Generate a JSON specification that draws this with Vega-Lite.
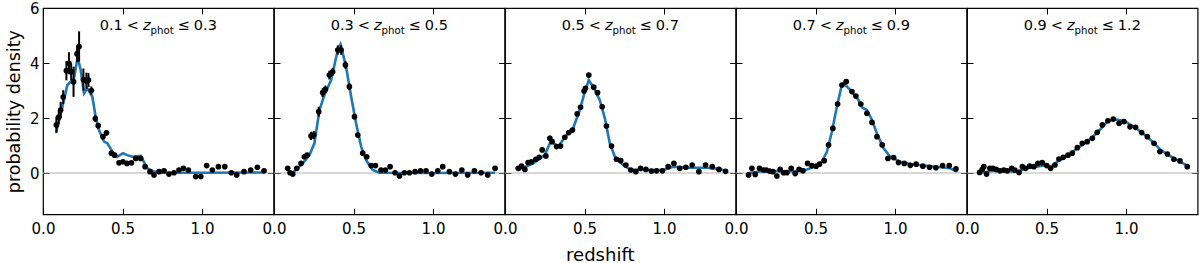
{
"$schema":"https://vega.github.io/schema/vega-lite/v6.json",
"background":"white",
"padding":{"left":4,"top":0,"right":2,"bottom":2},
"bounds":"flush",
"spacing":0,
"config":{"view":{"stroke":"black","strokeWidth":1.2},
 "axis":{"domain":false,"grid":false,"tickColor":"black","tickWidth":1,"tickSize":-6,"labelFont":"DejaVu Sans","labelFontSize":15,"labelColor":"black","titleFont":"DejaVu Sans","titleFontSize":18,"titleFontWeight":"normal","titleColor":"black","labelFlush":false,"labelOverlap":false,"labelBound":false},
 "text":{"font":"DejaVu Sans","fontSize":14.5,"color":"black","baseline":"alphabetic"}},
"datasets":{
"lab":[{"panel":1,"a":"0.1","b":"0.3"},{"panel":2,"a":"0.3","b":"0.5"},{"panel":3,"a":"0.5","b":"0.7"},{"panel":4,"a":"0.7","b":"0.9"},{"panel":5,"a":"0.9","b":"1.2"}],
"pts":[
{"panel":1,"z":0.084,"p":1.75,"lo":1.45,"hi":2.05},{"panel":1,"z":0.099,"p":2.03,"lo":1.78,"hi":2.28},{"panel":1,"z":0.111,"p":2.29,"lo":1.99,"hi":2.59},{"panel":1,"z":0.127,"p":2.76,"lo":2.51,"hi":3.01},{"panel":1,"z":0.147,"p":3.72,"lo":3.37,"hi":4.07},{"panel":1,"z":0.163,"p":3.99,"lo":3.59,"hi":4.39},{"panel":1,"z":0.177,"p":3.68,"lo":3.38,"hi":3.98},{"panel":1,"z":0.192,"p":3.32,"lo":2.77,"hi":3.87},{"panel":1,"z":0.214,"p":4.33,"lo":4.03,"hi":4.63},{"panel":1,"z":0.227,"p":4.6,"lo":4.05,"hi":5.15},{"panel":1,"z":0.254,"p":3.4,"lo":3.0,"hi":3.8},{"panel":1,"z":0.273,"p":3.35,"lo":3.05,"hi":3.65},{"panel":1,"z":0.286,"p":3.38,"lo":3.13,"hi":3.63},{"panel":1,"z":0.304,"p":3.0,"lo":2.85,"hi":3.15},{"panel":1,"z":0.329,"p":1.98,"lo":1.86,"hi":2.1},{"panel":1,"z":0.347,"p":1.72,"lo":1.62,"hi":1.82},{"panel":1,"z":0.377,"p":1.32,"lo":1.22,"hi":1.42},{"panel":1,"z":0.399,"p":1.46,"lo":1.36,"hi":1.56},{"panel":1,"z":0.43,"p":0.72,"lo":0.64,"hi":0.8},{"panel":1,"z":0.45,"p":0.65,"lo":0.57,"hi":0.73},{"panel":1,"z":0.478,"p":0.37,"lo":0.3,"hi":0.44},{"panel":1,"z":0.503,"p":0.41,"lo":0.34,"hi":0.48},{"panel":1,"z":0.528,"p":0.35,"lo":0.28,"hi":0.42},{"panel":1,"z":0.556,"p":0.37,"lo":0.3,"hi":0.44},{"panel":1,"z":0.583,"p":0.53,"lo":0.46,"hi":0.6},{"panel":1,"z":0.614,"p":0.53,"lo":0.46,"hi":0.6},{"panel":1,"z":0.642,"p":0.23,"lo":0.17,"hi":0.29},{"panel":1,"z":0.673,"p":0.05,"lo":-0.01,"hi":0.11},{"panel":1,"z":0.698,"p":-0.07,"lo":-0.13,"hi":-0.01},{"panel":1,"z":0.73,"p":0.05,"lo":-0.01,"hi":0.11},{"panel":1,"z":0.761,"p":0.08,"lo":0.02,"hi":0.14},{"panel":1,"z":0.792,"p":-0.04,"lo":-0.1,"hi":0.02},{"panel":1,"z":0.824,"p":0.01,"lo":-0.05,"hi":0.07},{"panel":1,"z":0.855,"p":0.11,"lo":0.05,"hi":0.17},{"panel":1,"z":0.883,"p":0.17,"lo":0.11,"hi":0.23},{"panel":1,"z":0.914,"p":0.11,"lo":0.05,"hi":0.17},{"panel":1,"z":0.96,"p":-0.13,"lo":-0.19,"hi":-0.07},{"panel":1,"z":0.992,"p":-0.13,"lo":-0.19,"hi":-0.07},{"panel":1,"z":1.029,"p":0.27,"lo":0.21,"hi":0.33},{"panel":1,"z":1.065,"p":0.11,"lo":0.05,"hi":0.17},{"panel":1,"z":1.103,"p":0.23,"lo":0.17,"hi":0.29},{"panel":1,"z":1.143,"p":0.23,"lo":0.17,"hi":0.29},{"panel":1,"z":1.184,"p":0.01,"lo":-0.05,"hi":0.07},{"panel":1,"z":1.218,"p":-0.07,"lo":-0.13,"hi":-0.01},{"panel":1,"z":1.264,"p":0.05,"lo":-0.01,"hi":0.11},{"panel":1,"z":1.306,"p":0.11,"lo":0.05,"hi":0.17},{"panel":1,"z":1.348,"p":0.21,"lo":0.15,"hi":0.27},{"panel":1,"z":1.39,"p":0.08,"lo":0.02,"hi":0.14},
{"panel":2,"z":0.086,"p":0.17,"lo":0.09,"hi":0.25},{"panel":2,"z":0.101,"p":0.01,"lo":-0.07,"hi":0.09},{"panel":2,"z":0.118,"p":-0.04,"lo":-0.12,"hi":0.04},{"panel":2,"z":0.143,"p":0.17,"lo":0.09,"hi":0.25},{"panel":2,"z":0.17,"p":0.35,"lo":0.27,"hi":0.43},{"panel":2,"z":0.191,"p":0.59,"lo":0.51,"hi":0.67},{"panel":2,"z":0.208,"p":0.65,"lo":0.57,"hi":0.73},{"panel":2,"z":0.233,"p":1.35,"lo":1.2,"hi":1.5},{"panel":2,"z":0.25,"p":1.38,"lo":1.23,"hi":1.53},{"panel":2,"z":0.281,"p":2.23,"lo":2.05,"hi":2.41},{"panel":2,"z":0.306,"p":2.92,"lo":2.76,"hi":3.08},{"panel":2,"z":0.323,"p":3.04,"lo":2.9,"hi":3.18},{"panel":2,"z":0.348,"p":3.56,"lo":3.4,"hi":3.72},{"panel":2,"z":0.369,"p":3.68,"lo":3.54,"hi":3.82},{"panel":2,"z":0.401,"p":4.47,"lo":4.3,"hi":4.64},{"panel":2,"z":0.422,"p":4.47,"lo":4.3,"hi":4.64},{"panel":2,"z":0.449,"p":3.93,"lo":3.79,"hi":4.07},{"panel":2,"z":0.474,"p":3.14,"lo":3.02,"hi":3.26},{"panel":2,"z":0.506,"p":2.05,"lo":1.95,"hi":2.15},{"panel":2,"z":0.527,"p":1.38,"lo":1.3,"hi":1.46},{"panel":2,"z":0.558,"p":0.72,"lo":0.65,"hi":0.79},{"panel":2,"z":0.583,"p":0.59,"lo":0.53,"hi":0.65},{"panel":2,"z":0.611,"p":0.27,"lo":0.21,"hi":0.33},{"panel":2,"z":0.638,"p":0.27,"lo":0.21,"hi":0.33},{"panel":2,"z":0.673,"p":0.11,"lo":0.05,"hi":0.17},{"panel":2,"z":0.701,"p":0.11,"lo":0.05,"hi":0.17},{"panel":2,"z":0.73,"p":0.23,"lo":0.17,"hi":0.29},{"panel":2,"z":0.761,"p":0.01,"lo":-0.05,"hi":0.07},{"panel":2,"z":0.789,"p":-0.11,"lo":-0.17,"hi":-0.05},{"panel":2,"z":0.82,"p":0.01,"lo":-0.05,"hi":0.07},{"panel":2,"z":0.852,"p":0.01,"lo":-0.05,"hi":0.07},{"panel":2,"z":0.887,"p":0.05,"lo":-0.01,"hi":0.11},{"panel":2,"z":0.921,"p":0.08,"lo":0.02,"hi":0.14},{"panel":2,"z":0.956,"p":0.08,"lo":0.02,"hi":0.14},{"panel":2,"z":0.992,"p":-0.04,"lo":-0.1,"hi":0.02},{"panel":2,"z":1.03,"p":0.08,"lo":0.02,"hi":0.14},{"panel":2,"z":1.061,"p":0.23,"lo":0.17,"hi":0.29},{"panel":2,"z":1.103,"p":0.05,"lo":-0.01,"hi":0.11},{"panel":2,"z":1.141,"p":-0.04,"lo":-0.1,"hi":0.02},{"panel":2,"z":1.181,"p":0.11,"lo":0.05,"hi":0.17},{"panel":2,"z":1.218,"p":-0.07,"lo":-0.13,"hi":-0.01},{"panel":2,"z":1.26,"p":0.08,"lo":0.02,"hi":0.14},{"panel":2,"z":1.302,"p":0.01,"lo":-0.05,"hi":0.07},{"panel":2,"z":1.344,"p":-0.07,"lo":-0.13,"hi":-0.01},{"panel":2,"z":1.39,"p":0.17,"lo":0.11,"hi":0.23},
{"panel":3,"z":0.083,"p":0.17,"lo":0.11,"hi":0.23},{"panel":3,"z":0.104,"p":0.25,"lo":0.19,"hi":0.31},{"panel":3,"z":0.125,"p":0.13,"lo":0.07,"hi":0.19},{"panel":3,"z":0.145,"p":0.38,"lo":0.32,"hi":0.44},{"panel":3,"z":0.166,"p":0.41,"lo":0.35,"hi":0.47},{"panel":3,"z":0.194,"p":0.5,"lo":0.44,"hi":0.56},{"panel":3,"z":0.215,"p":0.57,"lo":0.51,"hi":0.63},{"panel":3,"z":0.234,"p":0.84,"lo":0.76,"hi":0.92},{"panel":3,"z":0.257,"p":0.62,"lo":0.56,"hi":0.68},{"panel":3,"z":0.282,"p":1.26,"lo":1.16,"hi":1.36},{"panel":3,"z":0.296,"p":1.14,"lo":1.06,"hi":1.22},{"panel":3,"z":0.324,"p":0.96,"lo":0.9,"hi":1.02},{"panel":3,"z":0.349,"p":0.98,"lo":0.92,"hi":1.04},{"panel":3,"z":0.376,"p":1.3,"lo":1.24,"hi":1.36},{"panel":3,"z":0.401,"p":1.47,"lo":1.41,"hi":1.53},{"panel":3,"z":0.424,"p":1.56,"lo":1.5,"hi":1.62},{"panel":3,"z":0.454,"p":2.15,"lo":2.07,"hi":2.23},{"panel":3,"z":0.475,"p":2.39,"lo":2.31,"hi":2.47},{"panel":3,"z":0.497,"p":2.98,"lo":2.9,"hi":3.06},{"panel":3,"z":0.506,"p":3.08,"lo":3.0,"hi":3.16},{"panel":3,"z":0.527,"p":3.56,"lo":3.48,"hi":3.64},{"panel":3,"z":0.558,"p":3.12,"lo":3.04,"hi":3.2},{"panel":3,"z":0.582,"p":2.92,"lo":2.84,"hi":3.0},{"panel":3,"z":0.611,"p":2.41,"lo":2.33,"hi":2.49},{"panel":3,"z":0.638,"p":1.71,"lo":1.64,"hi":1.78},{"panel":3,"z":0.67,"p":0.98,"lo":0.92,"hi":1.04},{"panel":3,"z":0.701,"p":0.5,"lo":0.44,"hi":0.56},{"panel":3,"z":0.728,"p":0.45,"lo":0.39,"hi":0.51},{"panel":3,"z":0.76,"p":0.29,"lo":0.23,"hi":0.35},{"panel":3,"z":0.791,"p":0.11,"lo":0.05,"hi":0.17},{"panel":3,"z":0.823,"p":0.05,"lo":-0.01,"hi":0.11},{"panel":3,"z":0.852,"p":0.17,"lo":0.11,"hi":0.23},{"panel":3,"z":0.886,"p":0.13,"lo":0.07,"hi":0.19},{"panel":3,"z":0.921,"p":0.07,"lo":0.01,"hi":0.13},{"panel":3,"z":0.953,"p":0.08,"lo":0.02,"hi":0.14},{"panel":3,"z":0.99,"p":0.08,"lo":0.02,"hi":0.14},{"panel":3,"z":1.026,"p":0.23,"lo":0.17,"hi":0.29},{"panel":3,"z":1.062,"p":0.35,"lo":0.29,"hi":0.41},{"panel":3,"z":1.099,"p":0.17,"lo":0.11,"hi":0.23},{"panel":3,"z":1.137,"p":0.21,"lo":0.15,"hi":0.27},{"panel":3,"z":1.177,"p":0.29,"lo":0.23,"hi":0.35},{"panel":3,"z":1.219,"p":0.05,"lo":-0.01,"hi":0.11},{"panel":3,"z":1.261,"p":0.29,"lo":0.23,"hi":0.35},{"panel":3,"z":1.303,"p":0.23,"lo":0.17,"hi":0.29},{"panel":3,"z":1.345,"p":0.13,"lo":0.07,"hi":0.19},{"panel":3,"z":1.387,"p":0.06,"lo":0.0,"hi":0.12},
{"panel":4,"z":0.079,"p":-0.07,"lo":-0.13,"hi":-0.01},{"panel":4,"z":0.1,"p":0.17,"lo":0.11,"hi":0.23},{"panel":4,"z":0.121,"p":-0.05,"lo":-0.11,"hi":0.01},{"panel":4,"z":0.148,"p":0.17,"lo":0.11,"hi":0.23},{"panel":4,"z":0.173,"p":0.11,"lo":0.05,"hi":0.17},{"panel":4,"z":0.19,"p":0.11,"lo":0.05,"hi":0.17},{"panel":4,"z":0.211,"p":0.07,"lo":0.01,"hi":0.13},{"panel":4,"z":0.232,"p":0.05,"lo":-0.01,"hi":0.11},{"panel":4,"z":0.257,"p":-0.11,"lo":-0.17,"hi":-0.05},{"panel":4,"z":0.278,"p":0.13,"lo":0.07,"hi":0.19},{"panel":4,"z":0.299,"p":0.01,"lo":-0.05,"hi":0.07},{"panel":4,"z":0.32,"p":0.01,"lo":-0.05,"hi":0.07},{"panel":4,"z":0.347,"p":0.17,"lo":0.11,"hi":0.23},{"panel":4,"z":0.372,"p":-0.02,"lo":-0.08,"hi":0.04},{"panel":4,"z":0.397,"p":0.13,"lo":0.07,"hi":0.19},{"panel":4,"z":0.421,"p":0.08,"lo":0.02,"hi":0.14},{"panel":4,"z":0.45,"p":0.35,"lo":0.29,"hi":0.41},{"panel":4,"z":0.477,"p":0.27,"lo":0.21,"hi":0.33},{"panel":4,"z":0.504,"p":0.25,"lo":0.19,"hi":0.31},{"panel":4,"z":0.525,"p":0.32,"lo":0.26,"hi":0.38},{"panel":4,"z":0.555,"p":0.45,"lo":0.39,"hi":0.51},{"panel":4,"z":0.582,"p":1.02,"lo":0.96,"hi":1.08},{"panel":4,"z":0.609,"p":1.62,"lo":1.56,"hi":1.68},{"panel":4,"z":0.639,"p":2.51,"lo":2.44,"hi":2.58},{"panel":4,"z":0.666,"p":3.2,"lo":3.13,"hi":3.27},{"panel":4,"z":0.693,"p":3.32,"lo":3.25,"hi":3.39},{"panel":4,"z":0.729,"p":2.96,"lo":2.89,"hi":3.03},{"panel":4,"z":0.754,"p":2.8,"lo":2.73,"hi":2.87},{"panel":4,"z":0.785,"p":2.51,"lo":2.44,"hi":2.58},{"panel":4,"z":0.823,"p":2.17,"lo":2.1,"hi":2.24},{"panel":4,"z":0.855,"p":1.84,"lo":1.77,"hi":1.91},{"panel":4,"z":0.886,"p":1.32,"lo":1.25,"hi":1.39},{"panel":4,"z":0.919,"p":1.02,"lo":0.96,"hi":1.08},{"panel":4,"z":0.955,"p":0.53,"lo":0.47,"hi":0.59},{"panel":4,"z":0.991,"p":0.56,"lo":0.5,"hi":0.62},{"panel":4,"z":1.022,"p":0.38,"lo":0.32,"hi":0.44},{"panel":4,"z":1.058,"p":0.35,"lo":0.29,"hi":0.41},{"panel":4,"z":1.096,"p":0.28,"lo":0.22,"hi":0.34},{"panel":4,"z":1.133,"p":0.32,"lo":0.26,"hi":0.38},{"panel":4,"z":1.175,"p":0.25,"lo":0.19,"hi":0.31},{"panel":4,"z":1.217,"p":0.21,"lo":0.15,"hi":0.27},{"panel":4,"z":1.257,"p":0.19,"lo":0.13,"hi":0.25},{"panel":4,"z":1.299,"p":0.27,"lo":0.21,"hi":0.33},{"panel":4,"z":1.341,"p":0.27,"lo":0.21,"hi":0.33},{"panel":4,"z":1.383,"p":0.15,"lo":0.09,"hi":0.21},
{"panel":5,"z":0.079,"p":0.02,"lo":-0.04,"hi":0.08},{"panel":5,"z":0.096,"p":0.13,"lo":0.07,"hi":0.19},{"panel":5,"z":0.106,"p":0.23,"lo":0.17,"hi":0.29},{"panel":5,"z":0.123,"p":-0.04,"lo":-0.1,"hi":0.02},{"panel":5,"z":0.144,"p":0.17,"lo":0.11,"hi":0.23},{"panel":5,"z":0.163,"p":0.17,"lo":0.11,"hi":0.23},{"panel":5,"z":0.184,"p":0.13,"lo":0.07,"hi":0.19},{"panel":5,"z":0.207,"p":0.08,"lo":0.02,"hi":0.14},{"panel":5,"z":0.232,"p":0.11,"lo":0.05,"hi":0.17},{"panel":5,"z":0.253,"p":0.08,"lo":0.02,"hi":0.14},{"panel":5,"z":0.281,"p":0.17,"lo":0.11,"hi":0.23},{"panel":5,"z":0.301,"p":0.11,"lo":0.05,"hi":0.17},{"panel":5,"z":0.327,"p":0.02,"lo":-0.04,"hi":0.08},{"panel":5,"z":0.348,"p":0.23,"lo":0.17,"hi":0.29},{"panel":5,"z":0.369,"p":0.17,"lo":0.11,"hi":0.23},{"panel":5,"z":0.394,"p":0.25,"lo":0.19,"hi":0.31},{"panel":5,"z":0.421,"p":0.23,"lo":0.17,"hi":0.29},{"panel":5,"z":0.446,"p":0.35,"lo":0.29,"hi":0.41},{"panel":5,"z":0.473,"p":0.38,"lo":0.32,"hi":0.44},{"panel":5,"z":0.501,"p":0.27,"lo":0.21,"hi":0.33},{"panel":5,"z":0.526,"p":0.17,"lo":0.11,"hi":0.23},{"panel":5,"z":0.553,"p":0.29,"lo":0.23,"hi":0.35},{"panel":5,"z":0.578,"p":0.51,"lo":0.45,"hi":0.57},{"panel":5,"z":0.605,"p":0.57,"lo":0.51,"hi":0.63},{"panel":5,"z":0.635,"p":0.65,"lo":0.59,"hi":0.71},{"panel":5,"z":0.662,"p":0.72,"lo":0.66,"hi":0.78},{"panel":5,"z":0.694,"p":0.92,"lo":0.86,"hi":0.98},{"panel":5,"z":0.725,"p":1.08,"lo":1.02,"hi":1.14},{"panel":5,"z":0.756,"p":1.14,"lo":1.08,"hi":1.2},{"panel":5,"z":0.788,"p":1.26,"lo":1.2,"hi":1.32},{"panel":5,"z":0.819,"p":1.48,"lo":1.42,"hi":1.54},{"panel":5,"z":0.851,"p":1.75,"lo":1.69,"hi":1.81},{"panel":5,"z":0.886,"p":1.9,"lo":1.84,"hi":1.96},{"panel":5,"z":0.92,"p":1.96,"lo":1.9,"hi":2.02},{"panel":5,"z":0.956,"p":1.81,"lo":1.75,"hi":1.87},{"panel":5,"z":0.987,"p":1.87,"lo":1.81,"hi":1.93},{"panel":5,"z":1.025,"p":1.68,"lo":1.62,"hi":1.74},{"panel":5,"z":1.06,"p":1.66,"lo":1.6,"hi":1.72},{"panel":5,"z":1.098,"p":1.47,"lo":1.41,"hi":1.53},{"panel":5,"z":1.134,"p":1.32,"lo":1.26,"hi":1.38},{"panel":5,"z":1.176,"p":1.08,"lo":1.02,"hi":1.14},{"panel":5,"z":1.213,"p":0.78,"lo":0.72,"hi":0.84},{"panel":5,"z":1.26,"p":0.69,"lo":0.63,"hi":0.75},{"panel":5,"z":1.301,"p":0.5,"lo":0.44,"hi":0.56},{"panel":5,"z":1.339,"p":0.44,"lo":0.38,"hi":0.5},{"panel":5,"z":1.385,"p":0.23,"lo":0.17,"hi":0.29}
],
"fit":[
{"panel":1,"z":0.084,"p":1.5},{"panel":1,"z":0.122,"p":2.41},{"panel":1,"z":0.153,"p":3.2},{"panel":1,"z":0.174,"p":3.32},{"panel":1,"z":0.189,"p":3.26},{"panel":1,"z":0.218,"p":4.2},{"panel":1,"z":0.237,"p":3.75},{"panel":1,"z":0.258,"p":2.9},{"panel":1,"z":0.279,"p":3.08},{"panel":1,"z":0.31,"p":2.78},{"panel":1,"z":0.331,"p":2.05},{"panel":1,"z":0.352,"p":1.56},{"panel":1,"z":0.384,"p":1.14},{"panel":1,"z":0.405,"p":1.08},{"panel":1,"z":0.436,"p":0.78},{"panel":1,"z":0.467,"p":0.59},{"panel":1,"z":0.503,"p":0.72},{"panel":1,"z":0.53,"p":0.65},{"panel":1,"z":0.562,"p":0.59},{"panel":1,"z":0.614,"p":0.62},{"panel":1,"z":0.656,"p":0.17},{"panel":1,"z":0.698,"p":0.05},{"panel":1,"z":0.75,"p":0.01},{"panel":1,"z":1.0,"p":0.01},{"panel":1,"z":1.39,"p":0.02},
{"panel":2,"z":0.093,"p":0.05},{"panel":2,"z":0.118,"p":0.01},{"panel":2,"z":0.181,"p":0.35},{"panel":2,"z":0.223,"p":0.65},{"panel":2,"z":0.254,"p":1.08},{"panel":2,"z":0.286,"p":2.29},{"panel":2,"z":0.317,"p":2.84},{"panel":2,"z":0.359,"p":3.38},{"panel":2,"z":0.401,"p":4.47},{"panel":2,"z":0.418,"p":4.68},{"panel":2,"z":0.453,"p":3.87},{"panel":2,"z":0.485,"p":2.78},{"panel":2,"z":0.516,"p":1.81},{"panel":2,"z":0.548,"p":0.96},{"panel":2,"z":0.579,"p":0.47},{"panel":2,"z":0.621,"p":0.11},{"panel":2,"z":0.663,"p":0.01},{"panel":2,"z":1.0,"p":0.0},{"panel":2,"z":1.39,"p":0.01},
{"panel":3,"z":0.083,"p":0.11},{"panel":3,"z":0.177,"p":0.35},{"panel":3,"z":0.25,"p":0.65},{"panel":3,"z":0.282,"p":1.08},{"panel":3,"z":0.303,"p":1.1},{"panel":3,"z":0.334,"p":0.96},{"panel":3,"z":0.387,"p":1.38},{"panel":3,"z":0.428,"p":1.62},{"panel":3,"z":0.47,"p":2.29},{"panel":3,"z":0.502,"p":2.96},{"panel":3,"z":0.527,"p":3.38},{"panel":3,"z":0.565,"p":3.02},{"panel":3,"z":0.596,"p":2.65},{"panel":3,"z":0.628,"p":1.99},{"panel":3,"z":0.659,"p":1.08},{"panel":3,"z":0.691,"p":0.59},{"panel":3,"z":0.743,"p":0.29},{"panel":3,"z":0.785,"p":0.13},{"panel":3,"z":0.869,"p":0.11},{"panel":3,"z":0.995,"p":0.11},{"panel":3,"z":1.057,"p":0.23},{"panel":3,"z":1.141,"p":0.19},{"panel":3,"z":1.267,"p":0.19},{"panel":3,"z":1.351,"p":0.15},{"panel":3,"z":1.393,"p":0.05},
{"panel":4,"z":0.079,"p":0.0},{"panel":4,"z":0.173,"p":0.07},{"panel":4,"z":0.383,"p":0.07},{"panel":4,"z":0.446,"p":0.13},{"panel":4,"z":0.498,"p":0.23},{"panel":4,"z":0.54,"p":0.41},{"panel":4,"z":0.572,"p":0.78},{"panel":4,"z":0.603,"p":1.5},{"panel":4,"z":0.634,"p":2.41},{"panel":4,"z":0.662,"p":3.12},{"panel":4,"z":0.676,"p":3.26},{"panel":4,"z":0.718,"p":3.02},{"panel":4,"z":0.771,"p":2.65},{"panel":4,"z":0.792,"p":2.39},{"panel":4,"z":0.823,"p":2.29},{"panel":4,"z":0.855,"p":1.93},{"panel":4,"z":0.886,"p":1.44},{"panel":4,"z":0.928,"p":0.9},{"panel":4,"z":0.97,"p":0.59},{"panel":4,"z":1.033,"p":0.41},{"panel":4,"z":1.096,"p":0.33},{"panel":4,"z":1.179,"p":0.27},{"panel":4,"z":1.263,"p":0.23},{"panel":4,"z":1.347,"p":0.17},{"panel":4,"z":1.389,"p":0.05},
{"panel":5,"z":0.086,"p":0.01},{"panel":5,"z":0.169,"p":0.08},{"panel":5,"z":0.316,"p":0.05},{"panel":5,"z":0.379,"p":0.17},{"panel":5,"z":0.484,"p":0.27},{"panel":5,"z":0.526,"p":0.23},{"panel":5,"z":0.568,"p":0.41},{"panel":5,"z":0.631,"p":0.63},{"panel":5,"z":0.694,"p":0.9},{"panel":5,"z":0.756,"p":1.14},{"panel":5,"z":0.819,"p":1.47},{"panel":5,"z":0.882,"p":1.87},{"panel":5,"z":0.924,"p":1.95},{"panel":5,"z":0.987,"p":1.9},{"panel":5,"z":1.05,"p":1.68},{"panel":5,"z":1.134,"p":1.32},{"panel":5,"z":1.218,"p":0.84},{"panel":5,"z":1.301,"p":0.53},{"panel":5,"z":1.385,"p":0.27}
]},
"hconcat":[
{"width":230.6,"height":206.25,"resolve":{"axis":{"x":"independent","y":"independent"}},"layer":[
{"data":{"values":[{"y0":0}]},"mark":{"type":"rule","color":"#b0b0b0","strokeWidth":1},"encoding":{"y":{"field":"y0","type":"quantitative","scale":{"domain":[-1.5,6],"nice":false,"zero":false},"axis":null}}},
{"data":{"name":"fit"},"transform":[{"filter":"datum.panel==1"}],"mark":{"type":"line","color":"#1f77b4","strokeWidth":2.6},"encoding":{"x":{"field":"z","type":"quantitative","scale":{"domain":[0,1.45],"nice":false,"zero":false},"axis":{"orient":"bottom","values":[0,0.5,1],"format":".1f","labelPadding":13,"title":null}},"y":{"field":"p","type":"quantitative","scale":{"domain":[-1.5,6],"nice":false,"zero":false},"axis":{"orient":"left","values":[0,2,4,6],"labelPadding":10,"title":"probability density","titleFontSize":17.5,"titlePadding":6}}}},
{"data":{"name":"pts"},"transform":[{"filter":"datum.panel==1"}],"mark":{"type":"rule","color":"black","strokeWidth":2},"encoding":{"x":{"field":"z","type":"quantitative","scale":{"domain":[0,1.45],"nice":false,"zero":false},"axis":null},"y":{"field":"lo","type":"quantitative","scale":{"domain":[-1.5,6],"nice":false,"zero":false},"axis":null},"y2":{"field":"hi"}}},
{"data":{"name":"pts"},"transform":[{"filter":"datum.panel==1"}],"mark":{"type":"circle","color":"black","opacity":1,"size":32},"encoding":{"x":{"field":"z","type":"quantitative","scale":{"domain":[0,1.45],"nice":false,"zero":false},"axis":{"orient":"top","values":[0,0.5,1],"labels":false,"title":null}},"y":{"field":"p","type":"quantitative","scale":{"domain":[-1.5,6],"nice":false,"zero":false},"axis":{"orient":"right","values":[0,2,4,6],"labels":false,"title":null}}}},
{"data":{"name":"lab"},"transform":[{"filter":"datum.panel==1"}],"mark":{"type":"text","align":"right","dx":-35.5},"encoding":{"x":{"datum":0.725,"type":"quantitative","axis":null},"y":{"datum":5.2,"type":"quantitative","axis":null},"text":{"field":"a"}}},
{"data":{"name":"lab"},"transform":[{"filter":"datum.panel==1"}],"mark":{"type":"text","align":"center","dx":-25.4},"encoding":{"x":{"datum":0.725,"type":"quantitative","axis":null},"y":{"datum":5.2,"type":"quantitative","axis":null},"text":{"value":"<"}}},
{"data":{"name":"lab"},"transform":[{"filter":"datum.panel==1"}],"mark":{"type":"text","align":"left","fontStyle":"italic","dx":-15.3},"encoding":{"x":{"datum":0.725,"type":"quantitative","axis":null},"y":{"datum":5.2,"type":"quantitative","axis":null},"text":{"value":"z"}}},
{"data":{"name":"lab"},"transform":[{"filter":"datum.panel==1"}],"mark":{"type":"text","align":"left","fontSize":10.2,"dx":-7.7,"dy":3.5},"encoding":{"x":{"datum":0.725,"type":"quantitative","axis":null},"y":{"datum":5.2,"type":"quantitative","axis":null},"text":{"value":"phot"}}},
{"data":{"name":"lab"},"transform":[{"filter":"datum.panel==1"}],"mark":{"type":"text","align":"center","dx":25.4},"encoding":{"x":{"datum":0.725,"type":"quantitative","axis":null},"y":{"datum":5.2,"type":"quantitative","axis":null},"text":{"value":"≤"}}},
{"data":{"name":"lab"},"transform":[{"filter":"datum.panel==1"}],"mark":{"type":"text","align":"left","dx":35.5},"encoding":{"x":{"datum":0.725,"type":"quantitative","axis":null},"y":{"datum":5.2,"type":"quantitative","axis":null},"text":{"field":"b"}}}
]},
{"width":230.6,"height":206.25,"resolve":{"axis":{"x":"independent","y":"independent"}},"layer":[
{"data":{"values":[{"y0":0}]},"mark":{"type":"rule","color":"#b0b0b0","strokeWidth":1},"encoding":{"y":{"field":"y0","type":"quantitative","scale":{"domain":[-1.5,6],"nice":false,"zero":false},"axis":null}}},
{"data":{"name":"fit"},"transform":[{"filter":"datum.panel==2"}],"mark":{"type":"line","color":"#1f77b4","strokeWidth":2.6},"encoding":{"x":{"field":"z","type":"quantitative","scale":{"domain":[0,1.45],"nice":false,"zero":false},"axis":{"orient":"bottom","values":[0,0.5,1],"format":".1f","labelPadding":13,"title":null}},"y":{"field":"p","type":"quantitative","scale":{"domain":[-1.5,6],"nice":false,"zero":false},"axis":{"orient":"left","values":[0,2,4,6],"labels":false,"title":null}}}},
{"data":{"name":"pts"},"transform":[{"filter":"datum.panel==2"}],"mark":{"type":"rule","color":"black","strokeWidth":2},"encoding":{"x":{"field":"z","type":"quantitative","scale":{"domain":[0,1.45],"nice":false,"zero":false},"axis":null},"y":{"field":"lo","type":"quantitative","scale":{"domain":[-1.5,6],"nice":false,"zero":false},"axis":null},"y2":{"field":"hi"}}},
{"data":{"name":"pts"},"transform":[{"filter":"datum.panel==2"}],"mark":{"type":"circle","color":"black","opacity":1,"size":32},"encoding":{"x":{"field":"z","type":"quantitative","scale":{"domain":[0,1.45],"nice":false,"zero":false},"axis":{"orient":"top","values":[0,0.5,1],"labels":false,"title":null}},"y":{"field":"p","type":"quantitative","scale":{"domain":[-1.5,6],"nice":false,"zero":false},"axis":{"orient":"right","values":[0,2,4,6],"labels":false,"title":null}}}},
{"data":{"name":"lab"},"transform":[{"filter":"datum.panel==2"}],"mark":{"type":"text","align":"right","dx":-35.5},"encoding":{"x":{"datum":0.725,"type":"quantitative","axis":null},"y":{"datum":5.2,"type":"quantitative","axis":null},"text":{"field":"a"}}},
{"data":{"name":"lab"},"transform":[{"filter":"datum.panel==2"}],"mark":{"type":"text","align":"center","dx":-25.4},"encoding":{"x":{"datum":0.725,"type":"quantitative","axis":null},"y":{"datum":5.2,"type":"quantitative","axis":null},"text":{"value":"<"}}},
{"data":{"name":"lab"},"transform":[{"filter":"datum.panel==2"}],"mark":{"type":"text","align":"left","fontStyle":"italic","dx":-15.3},"encoding":{"x":{"datum":0.725,"type":"quantitative","axis":null},"y":{"datum":5.2,"type":"quantitative","axis":null},"text":{"value":"z"}}},
{"data":{"name":"lab"},"transform":[{"filter":"datum.panel==2"}],"mark":{"type":"text","align":"left","fontSize":10.2,"dx":-7.7,"dy":3.5},"encoding":{"x":{"datum":0.725,"type":"quantitative","axis":null},"y":{"datum":5.2,"type":"quantitative","axis":null},"text":{"value":"phot"}}},
{"data":{"name":"lab"},"transform":[{"filter":"datum.panel==2"}],"mark":{"type":"text","align":"center","dx":25.4},"encoding":{"x":{"datum":0.725,"type":"quantitative","axis":null},"y":{"datum":5.2,"type":"quantitative","axis":null},"text":{"value":"≤"}}},
{"data":{"name":"lab"},"transform":[{"filter":"datum.panel==2"}],"mark":{"type":"text","align":"left","dx":35.5},"encoding":{"x":{"datum":0.725,"type":"quantitative","axis":null},"y":{"datum":5.2,"type":"quantitative","axis":null},"text":{"field":"b"}}}
]},
{"width":230.6,"height":206.25,"resolve":{"axis":{"x":"independent","y":"independent"}},"layer":[
{"data":{"values":[{"y0":0}]},"mark":{"type":"rule","color":"#b0b0b0","strokeWidth":1},"encoding":{"y":{"field":"y0","type":"quantitative","scale":{"domain":[-1.5,6],"nice":false,"zero":false},"axis":null}}},
{"data":{"name":"fit"},"transform":[{"filter":"datum.panel==3"}],"mark":{"type":"line","color":"#1f77b4","strokeWidth":2.6},"encoding":{"x":{"field":"z","type":"quantitative","scale":{"domain":[0,1.45],"nice":false,"zero":false},"axis":{"orient":"bottom","values":[0,0.5,1],"format":".1f","labelPadding":13,"title":"redshift","titleX":94.8,"titlePadding":10}},"y":{"field":"p","type":"quantitative","scale":{"domain":[-1.5,6],"nice":false,"zero":false},"axis":{"orient":"left","values":[0,2,4,6],"labels":false,"title":null}}}},
{"data":{"name":"pts"},"transform":[{"filter":"datum.panel==3"}],"mark":{"type":"rule","color":"black","strokeWidth":2},"encoding":{"x":{"field":"z","type":"quantitative","scale":{"domain":[0,1.45],"nice":false,"zero":false},"axis":null},"y":{"field":"lo","type":"quantitative","scale":{"domain":[-1.5,6],"nice":false,"zero":false},"axis":null},"y2":{"field":"hi"}}},
{"data":{"name":"pts"},"transform":[{"filter":"datum.panel==3"}],"mark":{"type":"circle","color":"black","opacity":1,"size":32},"encoding":{"x":{"field":"z","type":"quantitative","scale":{"domain":[0,1.45],"nice":false,"zero":false},"axis":{"orient":"top","values":[0,0.5,1],"labels":false,"title":null}},"y":{"field":"p","type":"quantitative","scale":{"domain":[-1.5,6],"nice":false,"zero":false},"axis":{"orient":"right","values":[0,2,4,6],"labels":false,"title":null}}}},
{"data":{"name":"lab"},"transform":[{"filter":"datum.panel==3"}],"mark":{"type":"text","align":"right","dx":-35.5},"encoding":{"x":{"datum":0.725,"type":"quantitative","axis":null},"y":{"datum":5.2,"type":"quantitative","axis":null},"text":{"field":"a"}}},
{"data":{"name":"lab"},"transform":[{"filter":"datum.panel==3"}],"mark":{"type":"text","align":"center","dx":-25.4},"encoding":{"x":{"datum":0.725,"type":"quantitative","axis":null},"y":{"datum":5.2,"type":"quantitative","axis":null},"text":{"value":"<"}}},
{"data":{"name":"lab"},"transform":[{"filter":"datum.panel==3"}],"mark":{"type":"text","align":"left","fontStyle":"italic","dx":-15.3},"encoding":{"x":{"datum":0.725,"type":"quantitative","axis":null},"y":{"datum":5.2,"type":"quantitative","axis":null},"text":{"value":"z"}}},
{"data":{"name":"lab"},"transform":[{"filter":"datum.panel==3"}],"mark":{"type":"text","align":"left","fontSize":10.2,"dx":-7.7,"dy":3.5},"encoding":{"x":{"datum":0.725,"type":"quantitative","axis":null},"y":{"datum":5.2,"type":"quantitative","axis":null},"text":{"value":"phot"}}},
{"data":{"name":"lab"},"transform":[{"filter":"datum.panel==3"}],"mark":{"type":"text","align":"center","dx":25.4},"encoding":{"x":{"datum":0.725,"type":"quantitative","axis":null},"y":{"datum":5.2,"type":"quantitative","axis":null},"text":{"value":"≤"}}},
{"data":{"name":"lab"},"transform":[{"filter":"datum.panel==3"}],"mark":{"type":"text","align":"left","dx":35.5},"encoding":{"x":{"datum":0.725,"type":"quantitative","axis":null},"y":{"datum":5.2,"type":"quantitative","axis":null},"text":{"field":"b"}}}
]},
{"width":230.6,"height":206.25,"resolve":{"axis":{"x":"independent","y":"independent"}},"layer":[
{"data":{"values":[{"y0":0}]},"mark":{"type":"rule","color":"#b0b0b0","strokeWidth":1},"encoding":{"y":{"field":"y0","type":"quantitative","scale":{"domain":[-1.5,6],"nice":false,"zero":false},"axis":null}}},
{"data":{"name":"fit"},"transform":[{"filter":"datum.panel==4"}],"mark":{"type":"line","color":"#1f77b4","strokeWidth":2.6},"encoding":{"x":{"field":"z","type":"quantitative","scale":{"domain":[0,1.45],"nice":false,"zero":false},"axis":{"orient":"bottom","values":[0,0.5,1],"format":".1f","labelPadding":13,"title":null}},"y":{"field":"p","type":"quantitative","scale":{"domain":[-1.5,6],"nice":false,"zero":false},"axis":{"orient":"left","values":[0,2,4,6],"labels":false,"title":null}}}},
{"data":{"name":"pts"},"transform":[{"filter":"datum.panel==4"}],"mark":{"type":"rule","color":"black","strokeWidth":2},"encoding":{"x":{"field":"z","type":"quantitative","scale":{"domain":[0,1.45],"nice":false,"zero":false},"axis":null},"y":{"field":"lo","type":"quantitative","scale":{"domain":[-1.5,6],"nice":false,"zero":false},"axis":null},"y2":{"field":"hi"}}},
{"data":{"name":"pts"},"transform":[{"filter":"datum.panel==4"}],"mark":{"type":"circle","color":"black","opacity":1,"size":32},"encoding":{"x":{"field":"z","type":"quantitative","scale":{"domain":[0,1.45],"nice":false,"zero":false},"axis":{"orient":"top","values":[0,0.5,1],"labels":false,"title":null}},"y":{"field":"p","type":"quantitative","scale":{"domain":[-1.5,6],"nice":false,"zero":false},"axis":{"orient":"right","values":[0,2,4,6],"labels":false,"title":null}}}},
{"data":{"name":"lab"},"transform":[{"filter":"datum.panel==4"}],"mark":{"type":"text","align":"right","dx":-35.5},"encoding":{"x":{"datum":0.725,"type":"quantitative","axis":null},"y":{"datum":5.2,"type":"quantitative","axis":null},"text":{"field":"a"}}},
{"data":{"name":"lab"},"transform":[{"filter":"datum.panel==4"}],"mark":{"type":"text","align":"center","dx":-25.4},"encoding":{"x":{"datum":0.725,"type":"quantitative","axis":null},"y":{"datum":5.2,"type":"quantitative","axis":null},"text":{"value":"<"}}},
{"data":{"name":"lab"},"transform":[{"filter":"datum.panel==4"}],"mark":{"type":"text","align":"left","fontStyle":"italic","dx":-15.3},"encoding":{"x":{"datum":0.725,"type":"quantitative","axis":null},"y":{"datum":5.2,"type":"quantitative","axis":null},"text":{"value":"z"}}},
{"data":{"name":"lab"},"transform":[{"filter":"datum.panel==4"}],"mark":{"type":"text","align":"left","fontSize":10.2,"dx":-7.7,"dy":3.5},"encoding":{"x":{"datum":0.725,"type":"quantitative","axis":null},"y":{"datum":5.2,"type":"quantitative","axis":null},"text":{"value":"phot"}}},
{"data":{"name":"lab"},"transform":[{"filter":"datum.panel==4"}],"mark":{"type":"text","align":"center","dx":25.4},"encoding":{"x":{"datum":0.725,"type":"quantitative","axis":null},"y":{"datum":5.2,"type":"quantitative","axis":null},"text":{"value":"≤"}}},
{"data":{"name":"lab"},"transform":[{"filter":"datum.panel==4"}],"mark":{"type":"text","align":"left","dx":35.5},"encoding":{"x":{"datum":0.725,"type":"quantitative","axis":null},"y":{"datum":5.2,"type":"quantitative","axis":null},"text":{"field":"b"}}}
]},
{"width":230.6,"height":206.25,"resolve":{"axis":{"x":"independent","y":"independent"}},"layer":[
{"data":{"values":[{"y0":0}]},"mark":{"type":"rule","color":"#b0b0b0","strokeWidth":1},"encoding":{"y":{"field":"y0","type":"quantitative","scale":{"domain":[-1.5,6],"nice":false,"zero":false},"axis":null}}},
{"data":{"name":"fit"},"transform":[{"filter":"datum.panel==5"}],"mark":{"type":"line","color":"#1f77b4","strokeWidth":2.6},"encoding":{"x":{"field":"z","type":"quantitative","scale":{"domain":[0,1.45],"nice":false,"zero":false},"axis":{"orient":"bottom","values":[0,0.5,1],"format":".1f","labelPadding":13,"title":null}},"y":{"field":"p","type":"quantitative","scale":{"domain":[-1.5,6],"nice":false,"zero":false},"axis":{"orient":"left","values":[0,2,4,6],"labels":false,"title":null}}}},
{"data":{"name":"pts"},"transform":[{"filter":"datum.panel==5"}],"mark":{"type":"rule","color":"black","strokeWidth":2},"encoding":{"x":{"field":"z","type":"quantitative","scale":{"domain":[0,1.45],"nice":false,"zero":false},"axis":null},"y":{"field":"lo","type":"quantitative","scale":{"domain":[-1.5,6],"nice":false,"zero":false},"axis":null},"y2":{"field":"hi"}}},
{"data":{"name":"pts"},"transform":[{"filter":"datum.panel==5"}],"mark":{"type":"circle","color":"black","opacity":1,"size":32},"encoding":{"x":{"field":"z","type":"quantitative","scale":{"domain":[0,1.45],"nice":false,"zero":false},"axis":{"orient":"top","values":[0,0.5,1],"labels":false,"title":null}},"y":{"field":"p","type":"quantitative","scale":{"domain":[-1.5,6],"nice":false,"zero":false},"axis":{"orient":"right","values":[0,2,4,6],"labels":false,"title":null}}}},
{"data":{"name":"lab"},"transform":[{"filter":"datum.panel==5"}],"mark":{"type":"text","align":"right","dx":-35.5},"encoding":{"x":{"datum":0.725,"type":"quantitative","axis":null},"y":{"datum":5.2,"type":"quantitative","axis":null},"text":{"field":"a"}}},
{"data":{"name":"lab"},"transform":[{"filter":"datum.panel==5"}],"mark":{"type":"text","align":"center","dx":-25.4},"encoding":{"x":{"datum":0.725,"type":"quantitative","axis":null},"y":{"datum":5.2,"type":"quantitative","axis":null},"text":{"value":"<"}}},
{"data":{"name":"lab"},"transform":[{"filter":"datum.panel==5"}],"mark":{"type":"text","align":"left","fontStyle":"italic","dx":-15.3},"encoding":{"x":{"datum":0.725,"type":"quantitative","axis":null},"y":{"datum":5.2,"type":"quantitative","axis":null},"text":{"value":"z"}}},
{"data":{"name":"lab"},"transform":[{"filter":"datum.panel==5"}],"mark":{"type":"text","align":"left","fontSize":10.2,"dx":-7.7,"dy":3.5},"encoding":{"x":{"datum":0.725,"type":"quantitative","axis":null},"y":{"datum":5.2,"type":"quantitative","axis":null},"text":{"value":"phot"}}},
{"data":{"name":"lab"},"transform":[{"filter":"datum.panel==5"}],"mark":{"type":"text","align":"center","dx":25.4},"encoding":{"x":{"datum":0.725,"type":"quantitative","axis":null},"y":{"datum":5.2,"type":"quantitative","axis":null},"text":{"value":"≤"}}},
{"data":{"name":"lab"},"transform":[{"filter":"datum.panel==5"}],"mark":{"type":"text","align":"left","dx":35.5},"encoding":{"x":{"datum":0.725,"type":"quantitative","axis":null},"y":{"datum":5.2,"type":"quantitative","axis":null},"text":{"field":"b"}}}
]}
]
}
